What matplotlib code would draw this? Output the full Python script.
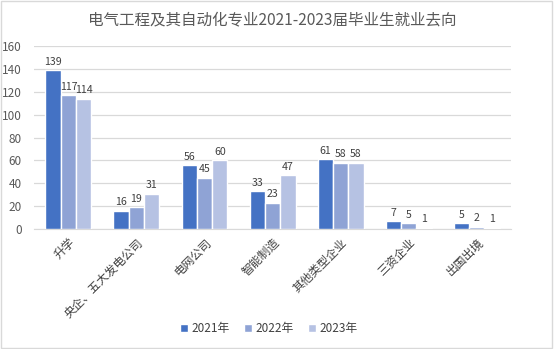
import numpy as np
import matplotlib
matplotlib.use("Agg")
import matplotlib.pyplot as plt
from matplotlib.patches import Rectangle

plt.rcParams['font.family'] = ['Noto Sans CJK SC', 'DejaVu Sans']

categories = ['升学', '央企、五大发电公司', '电网公司', '智能制造', '其他类型企业', '三资企业', '出国出境']
years = ['2021年', '2022年', '2023年']
v2021 = [139, 16, 56, 33, 61, 7, 5]
v2022 = [117, 19, 45, 23, 58, 5, 2]
v2023 = [114, 31, 60, 47, 58, 1, 1]
colors = ['#4472C4', '#8FA3D5', '#B6C2E3']

fig = plt.figure(figsize=(5.54, 3.49), dpi=100)
# thin grey frame around the whole chart
fig.patches.append(Rectangle((0.002, 0.003), 0.995, 0.994, transform=fig.transFigure,
                             fill=False, edgecolor='#D9D9D9', linewidth=1.0))
ax = fig.add_axes([0.062, 0.344, 0.860, 0.524])

x = np.arange(len(categories))
w = 0.225
for i, (vals, lab) in enumerate(zip([v2021, v2022, v2023], years)):
    bars = ax.bar(x + (i - 1) * w, vals, width=w, color=colors[i], edgecolor='white',
                  linewidth=1.0, label=lab, zorder=3)
    for b, v in zip(bars, vals):
        ax.text(b.get_x() + b.get_width() / 2, v + 3, str(v), ha='center', va='bottom',
                fontsize=7.6, color='#404040')

ax.set_xlim(-0.5, len(categories) - 0.5)
ax.set_ylim(0, 160)
ax.set_yticks(range(0, 161, 20))
ax.yaxis.grid(True, color='#D9D9D9', linewidth=0.9, zorder=0)
ax.tick_params(axis='y', length=0, labelsize=8.5, labelcolor='#595959', pad=9)
ax.tick_params(axis='x', length=0, labelsize=8.5, labelcolor='#404040', pad=5)
ax.set_xticks(x)
ax.set_xticklabels(categories, rotation=45, ha='right', rotation_mode='anchor')
for s in ['top', 'right', 'left']:
    ax.spines[s].set_visible(False)
ax.spines['bottom'].set_color('#D9D9D9')

ax.set_title('电气工程及其自动化专业2021-2023届毕业生就业去向', fontsize=11.2,
             color='#595959', pad=16)

fig.legend(loc='center', bbox_to_anchor=(0.485, 0.058), ncol=3, frameon=False,
           fontsize=8.5, handlelength=0.7, handleheight=0.7, handletextpad=0.3,
           columnspacing=1.2, labelcolor='#404040')

fig.savefig('out.png', dpi=100)
